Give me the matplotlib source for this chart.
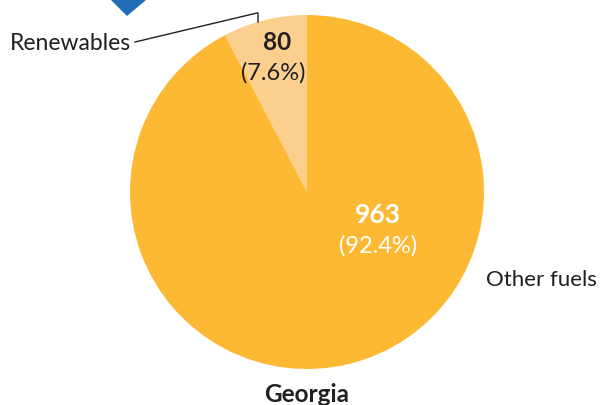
import matplotlib.pyplot as plt
from matplotlib.patches import Polygon

labels = ['Renewables', 'Other fuels']
values = [80, 963]
shares = ['(7.6%)', '(92.4%)']
colors = ['#fbcf8e', '#fdb933']
title = 'Georgia'

plt.rcParams['font.family'] = ['Lato', 'DejaVu Sans']
txt = '#231f20'

W, H = 601, 405
fig = plt.figure(figsize=(W / 100, H / 100), dpi=100)
ax = fig.add_axes([0, 0, 1, 1])

# pie, centre and radius in pixel units
cx, cy, r = 307, H - 192, 177
ax.pie(values, colors=colors, startangle=90, counterclock=True,
       center=(cx, cy), radius=r, frame=True,
       wedgeprops=dict(linewidth=0))
ax.set_xlim(0, W)
ax.set_ylim(0, H)
ax.set_aspect('equal')
ax.axis('off')

# blue marker cut off at the top
ax.add_patch(Polygon([(111, H), (146, H), (127, H - 16)], closed=True,
                     color='#1f6db5', lw=0))

# value labels
ax.text(277, H - 42, str(values[0]), ha='center', va='center',
        fontsize=17.5, fontweight='bold', color=txt)
ax.text(273, H - 73, shares[0], ha='center', va='center',
        fontsize=17, color=txt)
ax.text(378, H - 215, str(values[1]), ha='center', va='center',
        fontsize=19, fontweight='bold', color='white')
ax.text(378, H - 246, shares[1], ha='center', va='center',
        fontsize=17, color='white')

# category labels
ax.text(10, H - 43, labels[0], ha='left', va='center', fontsize=16.5, color=txt)
ax.plot([135, 257, 258, 258], [H - 42, H - 13, H - 13, H - 22],
        color=txt, lw=1)
ax.text(486, H - 280, labels[1], ha='left', va='center', fontsize=16, color=txt)

ax.text(cx, H - 394, title, ha='center', va='center',
        fontsize=17.5, fontweight='bold', color=txt)

fig.savefig('out.png', dpi=100)
